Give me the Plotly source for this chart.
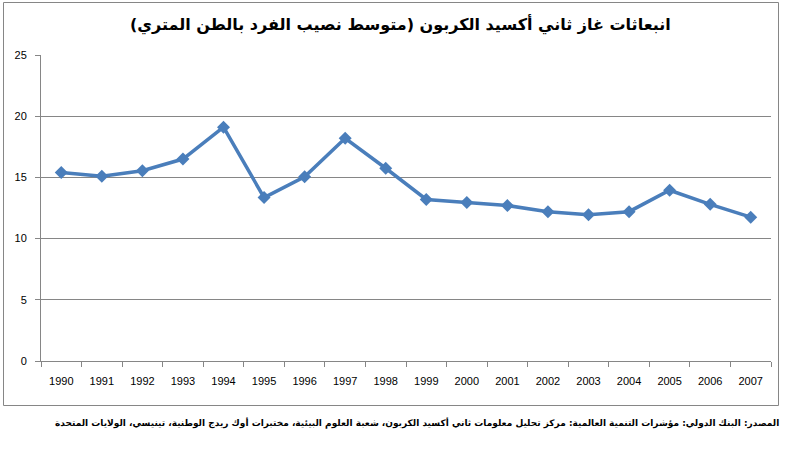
import plotly.graph_objects as go

years = [str(y) for y in range(1990, 2008)]
emissions = [15.4, 15.1, 15.55, 16.5, 19.1, 13.35, 15.05, 18.2, 15.75,
             13.2, 12.95, 12.7, 12.2, 11.95, 12.2, 13.95, 12.8, 11.75]
y_ticks = [0, 5, 10, 15, 20, 25]

title_text = "انبعاثات غاز ثاني أكسيد الكربون (متوسط نصيب الفرد بالطن المتري)"
source_text = "المصدر: البنك الدولي: مؤشرات التنمية العالمية: مركز تحليل معلومات ثاني أكسيد الكربون، شعبة العلوم البيئية، مختبرات أوك ريدج الوطنية، تينيسي، الولايات المتحدة"

W, H = 787, 451
L, R, T, B = 41, 771, 55, 361

def px(x):
    return (x - L) / (R - L)

def py(y):
    return (B - y) / (B - T)

fig = go.Figure()
fig.add_trace(go.Scatter(
    x=years, y=emissions, mode="lines+markers",
    line=dict(color="#4A7EBB", width=3.5),
    marker=dict(symbol="diamond", size=10, color="#4A7EBB"),
    hoverinfo="x+y", showlegend=False,
))

fig.update_layout(
    width=W, height=H,
    margin=dict(l=L, r=W - R, t=T, b=H - B),
    paper_bgcolor="white", plot_bgcolor="white",
    font=dict(family="DejaVu Sans, Liberation Sans, sans-serif", size=11, color="black"),
    xaxis=dict(
        type="category", range=[-0.5, len(years) - 0.5],
        tickson="boundaries", ticks="outside", ticklen=5,
        tickcolor="#868686", showline=True, linecolor="#868686", linewidth=1,
        showgrid=False, tickfont=dict(family="Liberation Sans, Arial, sans-serif", size=11),
        ticklabelstandoff=10,
    ),
    yaxis=dict(
        range=[0, 25], tickvals=y_ticks, ticks="outside", ticklen=5,
        tickcolor="#868686", showline=True, linecolor="#868686", linewidth=1,
        showgrid=True, gridcolor="#868686", gridwidth=1, zeroline=False,
        tickfont=dict(family="Liberation Sans, Arial, sans-serif", size=11),
        ticklabelstandoff=6,
    ),
    shapes=[dict(type="rect", xref="paper", yref="paper",
                 x0=px(3.5), x1=px(778.5), y0=py(405.5), y1=py(2.5),
                 line=dict(color="#868686", width=1), fillcolor="rgba(0,0,0,0)",
                 layer="below")],
    annotations=[
        dict(text="<b>" + title_text + "</b>", xref="paper", yref="paper",
             x=px(400), y=py(25), xanchor="center", yanchor="middle", showarrow=False,
             font=dict(family="DejaVu Sans, sans-serif", size=16, color="black")),
        dict(text="<b>" + source_text + "</b>", xref="paper", yref="paper",
             x=px(781), y=py(423), xanchor="right", yanchor="middle", showarrow=False,
             font=dict(family="DejaVu Sans, sans-serif", size=9, color="black")),
    ],
)

fig.write_html("out.html")
